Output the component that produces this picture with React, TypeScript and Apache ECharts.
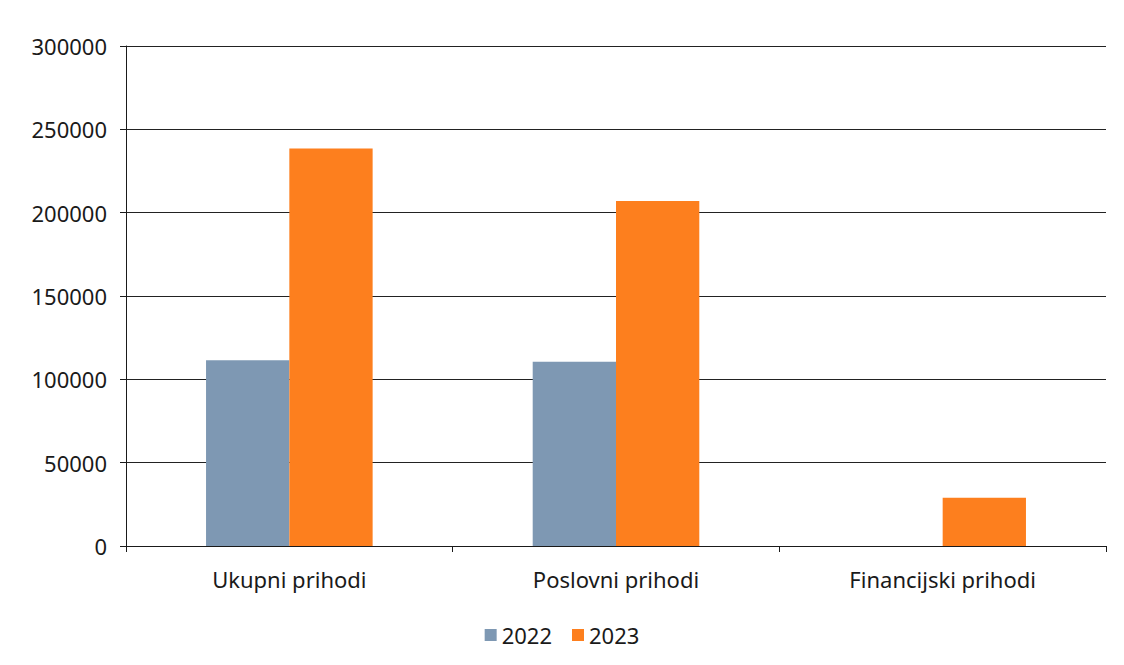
import React, { useEffect, useRef } from "react";
import * as echarts from "echarts";

const categories = ["Ukupni prihodi", "Poslovni prihodi", "Financijski prihodi"];
const series2022 = [111500, 110500, 0];
const series2023 = [238500, 207000, 29000];
const yTicks = { min: 0, max: 300000, interval: 50000 };

export default function App() {
  const ref = useRef<HTMLDivElement>(null);
  useEffect(() => {
    if (!ref.current) return;
    const chart = echarts.init(ref.current, undefined, { renderer: "svg" });
    const font = "'Noto Sans', 'Open Sans', sans-serif";
    chart.setOption({
      animation: false,
      backgroundColor: "#ffffff",
      textStyle: { fontFamily: font },
      grid: { left: 126, right: 18, top: 46, bottom: 119, containLabel: false },
      legend: {
        bottom: 14,
        left: "center",
        itemWidth: 12,
        itemHeight: 12,
        itemGap: 20,
        icon: "rect",
        textStyle: { fontSize: 22, color: "#1a1a1a", fontFamily: font },
        data: ["2022", "2023"],
      },
      xAxis: {
        type: "category",
        data: categories,
        axisLine: { show: true, lineStyle: { color: "#1a1a1a", width: 1 } },
        axisTick: { show: true, length: 6, alignWithLabel: false, lineStyle: { color: "#1a1a1a" } },
        axisLabel: { fontSize: 22, color: "#1a1a1a", margin: 22, fontFamily: font },
        splitLine: { show: false },
      },
      yAxis: {
        type: "value",
        min: yTicks.min,
        max: yTicks.max,
        interval: yTicks.interval,
        axisLine: { show: true, lineStyle: { color: "#1a1a1a", width: 1 } },
        axisTick: { show: true, length: 6, inside: false, lineStyle: { color: "#1a1a1a" } },
        axisLabel: {
          fontSize: 22,
          color: "#1a1a1a",
          margin: 19,
          fontFamily: font,
          formatter: (v: number) => String(v),
        },
        splitLine: { show: true, lineStyle: { color: "#222", width: 1 } },
      },
      series: [
        {
          name: "2022",
          type: "bar",
          data: series2022,
          barGap: "0%",
          barCategoryGap: "49%",
          itemStyle: { color: "#7e98b3" },
        },
        {
          name: "2023",
          type: "bar",
          data: series2023,
          barGap: "0%",
          barCategoryGap: "49%",
          itemStyle: { color: "#fd7f1e" },
        },
      ],
    });
    return () => chart.dispose();
  }, []);
  return (
    <div
      ref={ref}
      style={{ position: "fixed", left: 0, top: 0, width: 1124, height: 665 }}
    />
  );
}
